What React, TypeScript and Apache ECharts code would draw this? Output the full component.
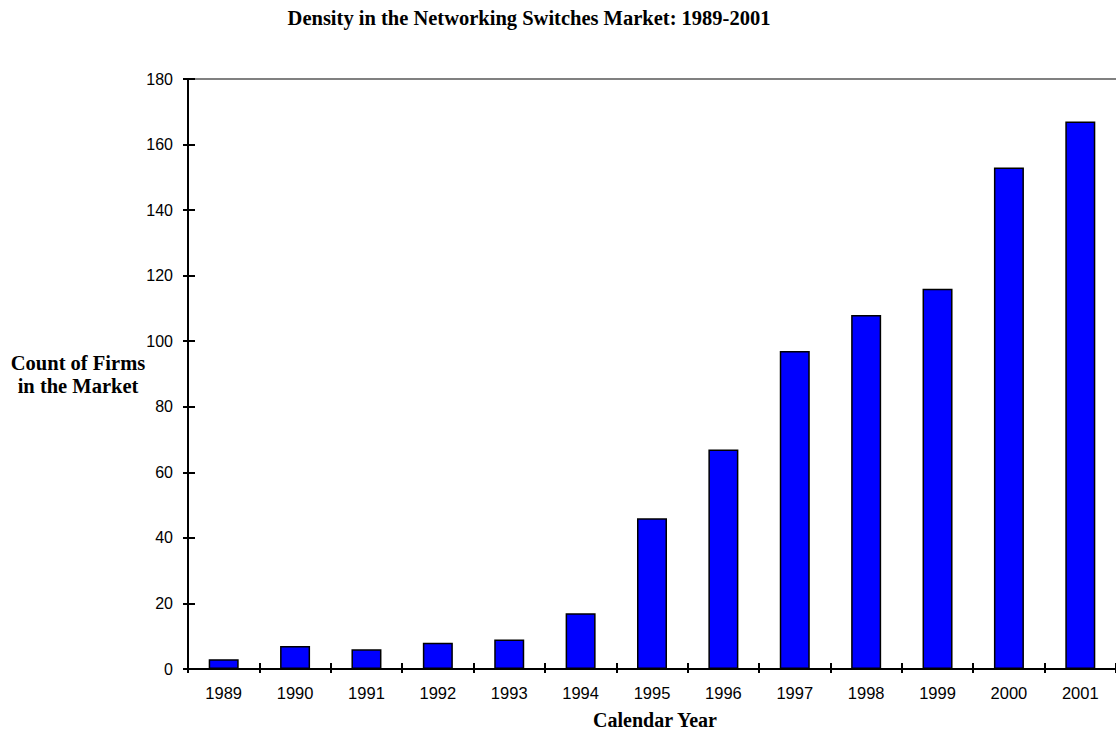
import React, { useEffect, useRef } from "react";
import * as echarts from "echarts";

const years = ["1989", "1990", "1991", "1992", "1993", "1994", "1995", "1996", "1997", "1998", "1999", "2000", "2001"];
const firmCounts = [3, 7, 6, 8, 9, 17, 46, 67, 97, 108, 116, 153, 167];
const titleText = "Density in the Networking Switches Market: 1989-2001";
const yName = "Count of Firms\nin the Market";
const xName = "Calendar Year";

export default function App() {
  const ref = useRef<HTMLDivElement>(null);
  useEffect(() => {
    if (!ref.current) return;
    const chart = echarts.init(ref.current, null, { renderer: "svg" });
    const serif = "Liberation Serif, Times New Roman, serif";
    const sans = "Liberation Sans, Arial, sans-serif";
    chart.setOption({
      animation: false,
      backgroundColor: "#ffffff",
      grid: { left: 188, right: -3, top: 79, bottom: 69, containLabel: false },
      xAxis: [
        {
          type: "category",
          data: years,
          position: "bottom",
          axisLine: { show: true, lineStyle: { color: "#000", width: 2 } },
          axisTick: { show: true, alignWithLabel: false, length: 4, lineStyle: { color: "#000", width: 2 } },
          axisLabel: { color: "#000", fontFamily: sans, fontSize: 16.5, margin: 15 },
          splitLine: { show: false },
        },
        {
          type: "category",
          data: years,
          position: "bottom",
          axisLine: { show: false },
          axisTick: { show: true, inside: true, length: 6, lineStyle: { color: "#000", width: 2 } },
          axisLabel: { show: false },
          splitLine: { show: false },
        },
        {
          type: "category",
          data: years,
          position: "top",
          axisLine: { show: true, lineStyle: { color: "#808080", width: 2 } },
          axisTick: { show: false },
          axisLabel: { show: false },
          splitLine: { show: false },
        },
      ],
      yAxis: [
        {
          type: "value",
          min: 0,
          max: 180,
          interval: 20,
          position: "left",
          axisLine: { show: true, lineStyle: { color: "#000", width: 2 } },
          axisTick: { show: true, length: 5, lineStyle: { color: "#000", width: 2 } },
          axisLabel: { color: "#000", fontFamily: sans, fontSize: 16, margin: 15 },
          splitLine: { show: false },
        },
        {
          type: "value",
          min: 0,
          max: 180,
          interval: 20,
          position: "left",
          axisLine: { show: false },
          axisTick: { show: true, inside: true, length: 7, lineStyle: { color: "#000", width: 2 } },
          axisLabel: { show: false },
          splitLine: { show: false },
        },
      ],
      series: [
        {
          type: "bar",
          data: firmCounts,
          xAxisIndex: 0,
          yAxisIndex: 0,
          barWidth: 30,
          itemStyle: { color: "#0000ff", borderColor: "#000", borderWidth: 1.5 },
        },
      ],
      graphic: [
        {
          type: "text",
          x: 529,
          y: 18,
          style: { text: titleText, textAlign: "center", textVerticalAlign: "middle", font: `bold 20.5px ${serif}`, fill: "#000" },
        },
        {
          type: "text",
          x: 78,
          y: 374,
          style: { text: yName, textAlign: "center", textVerticalAlign: "middle", font: `bold 20.5px ${serif}`, fill: "#000", lineHeight: 23 },
        },
        {
          type: "text",
          x: 655,
          y: 720,
          style: { text: xName, textAlign: "center", textVerticalAlign: "middle", font: `bold 20px ${serif}`, fill: "#000" },
        },
      ],
    });
    return () => chart.dispose();
  }, []);
  return <div ref={ref} style={{ position: "absolute", left: 0, top: 0, width: 1116, height: 738 }} />;
}
